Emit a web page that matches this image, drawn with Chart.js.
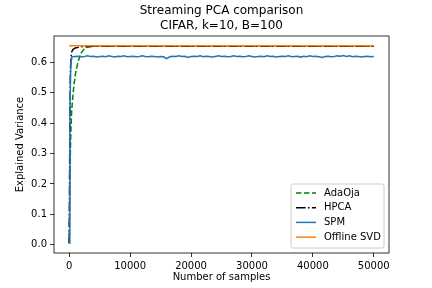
<!DOCTYPE html>
<html>
<head>
<meta charset="utf-8">
<script src="https://cdn.jsdelivr.net/npm/chart.js@4/dist/chart.umd.min.js"></script>
<style>
  html, body { margin: 0; padding: 0; background: #fff; }
  canvas { display: block; }
</style>
</head>
<body>
<canvas id="chart" width="432" height="288"></canvas>
<script>
const titleLines = ['Streaming PCA comparison', 'CIFAR, k=10, B=100'];
const xTicks = [0, 10000, 20000, 30000, 40000, 50000];
const yTicks = [0, 0.1, 0.2, 0.3, 0.4, 0.5, 0.6];

const adaSamples = [0, 100, 200, 300, 400, 600, 800, 1000, 1300, 1600, 2000, 2500, 3000, 4000, 5000, 10000, 20000, 30000, 40000, 50000];
const adaValues  = [0.005, 0.2, 0.32, 0.39, 0.44, 0.49, 0.53, 0.56, 0.59, 0.612, 0.633, 0.646, 0.651, 0.654, 0.654, 0.654, 0.654, 0.654, 0.654, 0.654];

const hpcaSamples = [0, 100, 200, 300, 400, 600, 1000, 1500, 2000, 3000, 4000, 5000, 10000, 20000, 30000, 40000, 50000];
const hpcaValues  = [0.005, 0.4, 0.58, 0.62, 0.635, 0.643, 0.648, 0.65, 0.652, 0.653, 0.654, 0.654, 0.654, 0.654, 0.654, 0.654, 0.654];

const spmSamples = [0, 100, 200, 300, 400,
  500, 1000, 1500, 2000, 2500, 3000, 3500, 4000, 4500, 5000,
  5500, 6000, 6500, 7000, 7500, 8000, 8500, 9000, 9500, 10000,
  10500, 11000, 11500, 12000, 12500, 13000, 13500, 14000, 14500, 15000,
  15500, 16000, 16500, 17000, 17500, 18000, 18500, 19000, 19500, 20000,
  20500, 21000, 21500, 22000, 22500, 23000, 23500, 24000, 24500, 25000,
  25500, 26000, 26500, 27000, 27500, 28000, 28500, 29000, 29500, 30000,
  30500, 31000, 31500, 32000, 32500, 33000, 33500, 34000, 34500, 35000,
  35500, 36000, 36500, 37000, 37500, 38000, 38500, 39000, 39500, 40000,
  40500, 41000, 41500, 42000, 42500, 43000, 43500, 44000, 44500, 45000,
  45500, 46000, 46500, 47000, 47500, 48000, 48500, 49000, 49500, 50000];
const spmValues = [0.005, 0.35, 0.55, 0.61, 0.619,
  0.619, 0.620, 0.621, 0.619, 0.620, 0.622, 0.620, 0.621, 0.618, 0.620,
  0.621, 0.619, 0.622, 0.620, 0.618, 0.621, 0.620, 0.622, 0.619, 0.620,
  0.621, 0.619, 0.620, 0.622, 0.620, 0.619, 0.621, 0.620, 0.618, 0.620,
  0.619, 0.613, 0.619, 0.621, 0.620, 0.622, 0.620, 0.621, 0.617, 0.620,
  0.621, 0.620, 0.622, 0.619, 0.621, 0.620, 0.618, 0.620, 0.622, 0.620,
  0.621, 0.619, 0.620, 0.622, 0.620, 0.621, 0.619, 0.620, 0.622, 0.620,
  0.618, 0.620, 0.621, 0.619, 0.622, 0.620, 0.621, 0.618, 0.620, 0.621,
  0.620, 0.622, 0.619, 0.620, 0.621, 0.618, 0.621, 0.619, 0.622, 0.620,
  0.621, 0.619, 0.617, 0.620, 0.621, 0.619, 0.620, 0.622, 0.621, 0.623,
  0.620, 0.622, 0.619, 0.621, 0.620, 0.618, 0.620, 0.621, 0.619, 0.620];

const svdSamples = [0, 50000];
const svdValues  = [0.655, 0.655];

const seriesLabels = ['AdaOja', 'HPCA', 'SPM', 'Offline SVD'];
const seriesColors = ['#008000', '#000000', '#1f77b4', '#ff7f0e'];
const seriesDashes = [[5.55, 2.4], [9.6, 2.4, 1.5, 2.4], [], []];

const toPoints = (xs, ys) => xs.map((x, i) => ({ x: x, y: ys[i] }));
const allPoints = [
  toPoints(adaSamples, adaValues),
  toPoints(hpcaSamples, hpcaValues),
  toPoints(spmSamples, spmValues),
  toPoints(svdSamples, svdValues)
];

Chart.defaults.font.family = "'DejaVu Sans', sans-serif";
Chart.defaults.font.size = 10;
Chart.defaults.color = '#000';

// titles, frame and legend the way matplotlib lays them out
const decor = {
  id: 'decor',
  afterDraw(chart) {
    const { ctx, chartArea: a } = chart;
    ctx.save();
    ctx.strokeStyle = '#000';
    ctx.lineWidth = 0.8;
    ctx.strokeRect(a.left, a.top, a.right - a.left, a.bottom - a.top);

    ctx.fillStyle = '#000';
    ctx.font = "12px 'DejaVu Sans', sans-serif";
    ctx.textAlign = 'center';
    ctx.textBaseline = 'middle';
    const cx = (a.left + a.right) / 2;
    ctx.fillText(titleLines[0], cx, 10.5);
    ctx.fillText(titleLines[1], cx, 25.5);

    // legend box, lower right
    const bx = 291, by = 184, bw = a.right - 5 - 291, bh = a.bottom - 5 - 184;
    ctx.beginPath();
    ctx.roundRect(bx, by, bw, bh, 2);
    ctx.fillStyle = 'rgba(255,255,255,0.8)';
    ctx.fill();
    ctx.strokeStyle = '#cccccc';
    ctx.lineWidth = 1;
    ctx.stroke();
    ctx.font = "10px 'DejaVu Sans', sans-serif";
    ctx.textAlign = 'left';
    seriesLabels.forEach((lab, i) => {
      const y = 193 + i * 14.7;
      ctx.beginPath();
      ctx.setLineDash(seriesDashes[i]);
      ctx.strokeStyle = seriesColors[i];
      ctx.lineWidth = 1.5;
      ctx.moveTo(296, y);
      ctx.lineTo(316, y);
      ctx.stroke();
      ctx.setLineDash([]);
      ctx.fillStyle = '#000';
      ctx.fillText(lab, 324, y);
    });
    ctx.restore();
  }
};

new Chart(document.getElementById('chart'), {
  type: 'line',
  data: {
    datasets: seriesLabels.map((lab, i) => ({
      label: lab,
      data: allPoints[i],
      borderColor: seriesColors[i],
      borderDash: seriesDashes[i],
      borderWidth: 1.5,
      pointRadius: 0,
      fill: false,
      tension: 0,
      order: 3 - i
    }))
  },
  options: {
    responsive: false,
    animation: false,
    devicePixelRatio: 1,
    layout: { padding: { top: 36, right: 43, left: 0, bottom: 0 } },
    plugins: {
      legend: { display: false },
      title: { display: false },
      tooltip: { enabled: false }
    },
    scales: {
      x: {
        type: 'linear',
        min: -2500,
        max: 52500,
        afterBuildTicks: s => { s.ticks = xTicks.map(v => ({ value: v })); },
        afterFit: s => { s.height = 35; },
        ticks: { padding: 3, maxRotation: 0, callback: v => String(v) },
        grid: { drawOnChartArea: false, drawTicks: true, tickLength: 4, color: '#000', lineWidth: 0.8 },
        border: { display: false },
        title: { display: true, text: 'Number of samples', padding: 5 }
      },
      y: {
        type: 'linear',
        min: -0.0275,
        max: 0.6875,
        afterBuildTicks: s => { s.ticks = yTicks.map(v => ({ value: v })); },
        afterFit: s => { s.width = 54; },
        ticks: { padding: 3, callback: v => v.toFixed(1) },
        grid: { drawOnChartArea: false, drawTicks: true, tickLength: 4, color: '#000', lineWidth: 0.8 },
        border: { display: false },
        title: { display: true, text: 'Explained Variance', padding: 14 }
      }
    }
  },
  plugins: [decor]
});
</script>
</body>
</html>
